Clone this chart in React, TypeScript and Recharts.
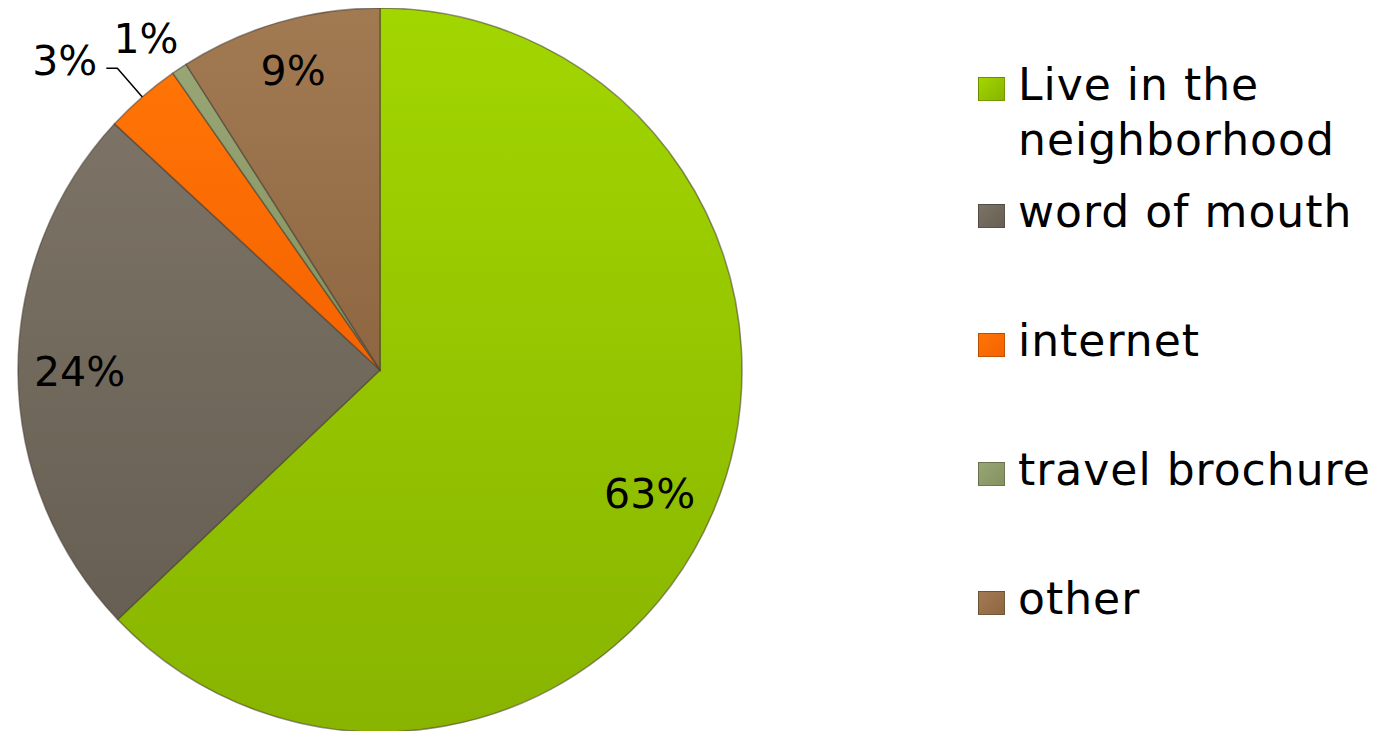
import { PieChart, Pie, Cell, Legend } from 'recharts';

// share of respondents, clockwise from 12 o'clock
const categories = ['Live in the neighborhood', 'word of mouth', 'internet', 'travel brochure', 'other'];
const shares = [62.9, 24.0, 3.4, 0.7, 9.0];

const GRADIENTS = [
  ['#a2d600', '#88b400'],
  ['#7c7366', '#685f54'],
  ['#ff7406', '#f56300'],
  ['#98a676', '#84925f'],
  ['#a27a52', '#8e6742'],
];

// label placement tweaks (radius factor, angle offset in degrees)
const LABEL_POS = [
  [0.82, -1.5],
  [0.83, 0],
  [1.22, 4.5],
  [1.12, 1.6],
  [0.86, 0],
];

const FONT = '"DejaVu Sans", sans-serif';
const RADIAN = Math.PI / 180;

const data = categories.map((name, i) => ({ name, value: shares[i] }));

const renderLabel = (props: any) => {
  const { cx, cy, midAngle, outerRadius, percent, index } = props;
  const [f, off] = LABEL_POS[index];
  const a = (midAngle + off) * RADIAN;
  const x = cx + outerRadius * f * Math.cos(-a);
  const y = cy + outerRadius * f * Math.sin(-a);
  return (
    <text
      x={x}
      y={y}
      fill="#000"
      textAnchor="middle"
      dominantBaseline="central"
      fontFamily={FONT}
      fontSize={41}
    >
      {`${Math.round(percent * 100)}%`}
    </text>
  );
};

const renderLabelLine = (props: any) => {
  const { cx, cy, midAngle, outerRadius, index } = props;
  if (index !== 2) return <path d="" />;
  const a = midAngle * RADIAN;
  const x1 = cx + outerRadius * Math.cos(-a);
  const y1 = cy + outerRadius * Math.sin(-a);
  const x2 = cx + outerRadius * 1.105 * Math.cos(-a);
  const y2 = cy + outerRadius * 1.105 * Math.sin(-a);
  return (
    <path
      d={`M${x1},${y1} L${x2},${y2} L${x2 - 11},${y2}`}
      stroke="#000"
      strokeWidth={1.5}
      fill="none"
    />
  );
};

const renderLegend = () => (
  <div style={{ fontFamily: FONT, fontSize: 44, letterSpacing: 1, color: '#000' }}>
    {categories.map((name, i) => (
      <div
        key={name}
        style={{
          position: 'absolute',
          top: i === 0 ? 0 : 127 + (i - 1) * 129,
          left: 0,
          display: 'flex',
          alignItems: 'flex-start',
        }}
      >
        <div
          style={{
            width: 27,
            height: 24,
            marginTop: 14,
            marginRight: 13,
            background: `linear-gradient(135deg, ${GRADIENTS[i][0]}, ${GRADIENTS[i][1]})`,
            border: '1px solid rgba(0,0,0,0.25)',
            boxSizing: 'border-box',
            flexShrink: 0,
          }}
        />
        <div style={{ width: 370, lineHeight: '55px', marginTop: -6 }}>{name}</div>
      </div>
    ))}
  </div>
);

export default function App() {
  return (
    <PieChart width={1367} height={723} margin={{ top: 0, right: 0, bottom: 0, left: 0 }}>
      <defs>
        {GRADIENTS.map((g, i) => (
          <linearGradient key={i} id={`grad${i}`} x1="0" y1="0" x2="0" y2="1">
            <stop offset="0%" stopColor={g[0]} />
            <stop offset="100%" stopColor={g[1]} />
          </linearGradient>
        ))}
      </defs>
      <Pie
        data={data}
        dataKey="value"
        nameKey="name"
        cx={372}
        cy={362}
        outerRadius={362}
        startAngle={90}
        endAngle={-270}
        stroke="rgba(70,60,50,0.55)"
        strokeWidth={1.5}
        label={renderLabel}
        labelLine={renderLabelLine}
        isAnimationActive={false}
      >
        {data.map((d, i) => (
          <Cell key={d.name} fill={`url(#grad${i})`} />
        ))}
      </Pie>
      <Legend
        layout="vertical"
        content={renderLegend}
        wrapperStyle={{ position: 'absolute', left: 970, top: 55, width: 397, height: 600 }}
      />
    </PieChart>
  );
}
